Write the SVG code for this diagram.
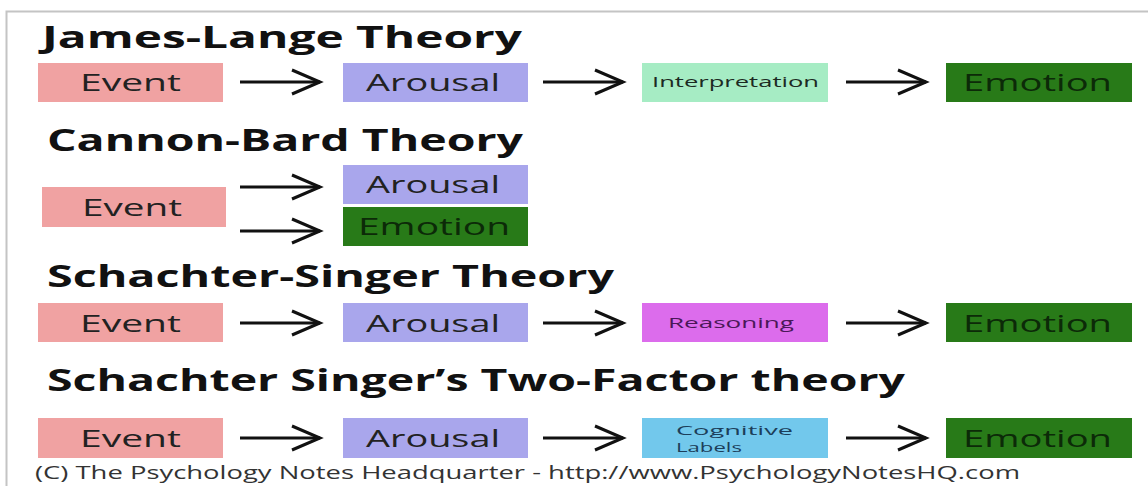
<svg xmlns="http://www.w3.org/2000/svg" width="1148" height="486" viewBox="0 0 1148 486">
<style>
.title{font-family:"Open Sans","Liberation Sans",sans-serif;font-weight:700;font-size:30px;fill:#111}
.lbl{font-family:"Open Sans","Liberation Sans",sans-serif;font-size:23px;fill:#222;text-anchor:middle}
.sm{font-family:"Open Sans","Liberation Sans",sans-serif;font-size:15px;text-anchor:middle}
.cgt{font-family:"Open Sans","Liberation Sans",sans-serif;font-size:13.5px;fill:#1c3e5a}
.em{fill:#0c2a08}
.ev{fill:#f0a2a2}
.ar{fill:#a9a6ec}
.in{fill:#a6ecc4}
.eo{fill:#287a18}
.rs{fill:#dc6cec}
.cg{fill:#72c8ec}
.conn line{stroke:#111;stroke-width:3;fill:none}
.foot{font-family:"Open Sans","Liberation Sans",sans-serif;font-size:19px;fill:#333}
</style>
<defs>
<marker id="chev" markerUnits="userSpaceOnUse" markerWidth="34" markerHeight="30" refX="30" refY="14" orient="auto">
<path d="M2,2 L30,14 L2,26" fill="none" stroke="#111" stroke-width="3"/>
</marker>
</defs>
<rect width="1148" height="486" fill="#fff"/>
<path d="M6.5,486 V11.5 H1148" fill="none" stroke="#c4c4c4" stroke-width="2"/>

<g id="titles">
<text class="title" x="42" y="48" textLength="480" lengthAdjust="spacingAndGlyphs">James-Lange Theory</text>
<text class="title" x="47" y="151" textLength="476" lengthAdjust="spacingAndGlyphs">Cannon-Bard Theory</text>
<text class="title" x="47" y="287" textLength="567" lengthAdjust="spacingAndGlyphs">Schachter-Singer Theory</text>
<text class="title" x="47" y="391" textLength="858" lengthAdjust="spacingAndGlyphs">Schachter Singer’s Two-Factor theory</text>
</g>

<g class="conn" id="connectors">
<line x1="240" y1="82" x2="320" y2="82" marker-end="url(#chev)"/>
<line x1="543" y1="82" x2="623" y2="82" marker-end="url(#chev)"/>
<line x1="846" y1="82" x2="926" y2="82" marker-end="url(#chev)"/>
<line x1="240" y1="187" x2="320" y2="187" marker-end="url(#chev)"/>
<line x1="240" y1="231" x2="320" y2="231" marker-end="url(#chev)"/>
<line x1="240" y1="323" x2="320" y2="323" marker-end="url(#chev)"/>
<line x1="543" y1="323" x2="623" y2="323" marker-end="url(#chev)"/>
<line x1="846" y1="323" x2="926" y2="323" marker-end="url(#chev)"/>
<line x1="240" y1="438" x2="320" y2="438" marker-end="url(#chev)"/>
<line x1="543" y1="438" x2="623" y2="438" marker-end="url(#chev)"/>
<line x1="846" y1="438" x2="926" y2="438" marker-end="url(#chev)"/>
</g>

<!-- James-Lange -->
<g id="jl-event"><rect class="ev" x="38" y="63" width="185" height="39"/><text class="lbl" x="130.5" y="91" textLength="101" lengthAdjust="spacingAndGlyphs">Event</text></g>
<g id="jl-arousal"><rect class="ar" x="343" y="63" width="185" height="39"/><text class="lbl" x="433" y="91" textLength="134" lengthAdjust="spacingAndGlyphs">Arousal</text></g>
<g id="jl-interp"><rect class="in" x="642" y="63" width="186" height="39"/><text class="sm" x="735.5" y="87" fill="#1c2a22" textLength="167" lengthAdjust="spacingAndGlyphs">Interpretation</text></g>
<g id="jl-emotion"><rect class="eo" x="946" y="63" width="186" height="39"/><text class="lbl em" x="1037.5" y="91" textLength="149" lengthAdjust="spacingAndGlyphs">Emotion</text></g>

<!-- Cannon-Bard -->
<g id="cb-event"><rect class="ev" x="42" y="187" width="184" height="40"/><text class="lbl" x="132" y="216" textLength="100" lengthAdjust="spacingAndGlyphs">Event</text></g>
<g id="cb-arousal"><rect class="ar" x="343" y="165" width="185" height="39"/><text class="lbl" x="433" y="193" textLength="134" lengthAdjust="spacingAndGlyphs">Arousal</text></g>
<g id="cb-emotion"><rect class="eo" x="343" y="207" width="185" height="39"/><text class="lbl em" x="434" y="235" textLength="152" lengthAdjust="spacingAndGlyphs">Emotion</text></g>

<!-- Schachter-Singer -->
<g id="ss-event"><rect class="ev" x="38" y="303" width="185" height="39"/><text class="lbl" x="130.5" y="332" textLength="101" lengthAdjust="spacingAndGlyphs">Event</text></g>
<g id="ss-arousal"><rect class="ar" x="343" y="303" width="185" height="39"/><text class="lbl" x="433" y="332" textLength="134" lengthAdjust="spacingAndGlyphs">Arousal</text></g>
<g id="ss-reason"><rect class="rs" x="642" y="303" width="186" height="39"/><text class="sm" x="731" y="328" fill="#4a1858" textLength="126" lengthAdjust="spacingAndGlyphs">Reasoning</text></g>
<g id="ss-emotion"><rect class="eo" x="946" y="303" width="186" height="39"/><text class="lbl em" x="1037.5" y="332" textLength="149" lengthAdjust="spacingAndGlyphs">Emotion</text></g>

<!-- Two-Factor -->
<g id="tf-event"><rect class="ev" x="38" y="418" width="185" height="40"/><text class="lbl" x="130.5" y="447" textLength="101" lengthAdjust="spacingAndGlyphs">Event</text></g>
<g id="tf-arousal"><rect class="ar" x="343" y="418" width="185" height="40"/><text class="lbl" x="433" y="447" textLength="134" lengthAdjust="spacingAndGlyphs">Arousal</text></g>
<g id="tf-cog"><rect class="cg" x="642" y="418" width="186" height="40"/><text class="cgt" x="676" y="435" textLength="117" lengthAdjust="spacingAndGlyphs">Cognitive</text><text class="cgt" x="676" y="452" textLength="66" lengthAdjust="spacingAndGlyphs">Labels</text></g>
<g id="tf-emotion"><rect class="eo" x="946" y="418" width="186" height="40"/><text class="lbl em" x="1037.5" y="447" textLength="149" lengthAdjust="spacingAndGlyphs">Emotion</text></g>

<text class="foot" x="35" y="479" textLength="985" lengthAdjust="spacingAndGlyphs">(C) The Psychology Notes Headquarter - http://www.PsychologyNotesHQ.com</text>
</svg>
